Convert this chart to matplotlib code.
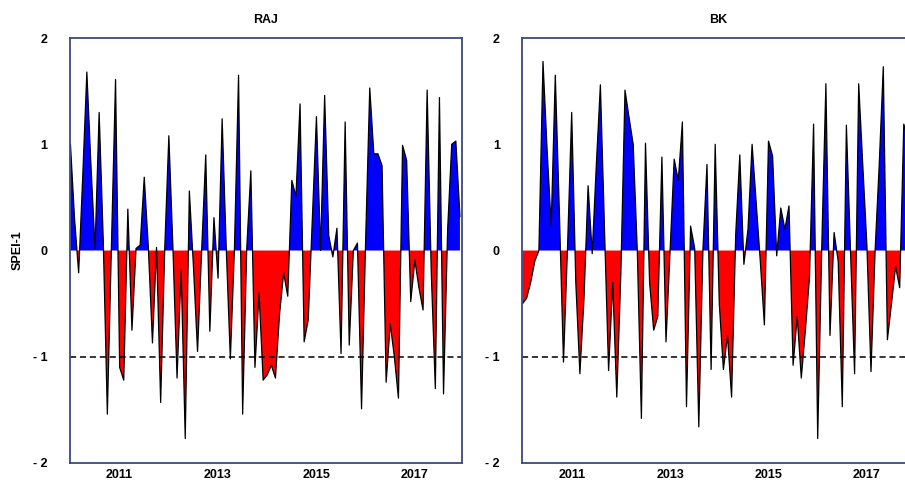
import numpy as np
import matplotlib
matplotlib.use("Agg")
import matplotlib.pyplot as plt

# monthly SPEI-1, Jan 2010 .. Dec 2017
spei_raj = [
    1.00, 0.30, -0.21, 0.70, 1.68, 0.80, 0.02, 1.30, 0.10, -1.54, 0.05, 1.61,
    -1.10, -1.22, 0.39, -0.75, 0.02, 0.05, 0.69, 0.03, -0.87, 0.03, -1.43, 0.02,
    1.08, 0.02, -1.20, -0.18, -1.77, 0.56, -0.15, -0.95, 0.00, 0.90, -0.76, 0.31,
    -0.26, 1.24, 0.02, -1.02, 0.02, 1.65, -1.54, 0.02, 0.75, -1.10, -0.40, -1.22,
    -1.17, -1.08, -1.20, -0.60, -0.21, -0.43, 0.66, 0.51, 1.38, -0.86, -0.65, 0.30,
    1.26, 0.00, 1.46, 0.14, -0.06, 0.21, -0.97, 1.21, -0.89, 0.00, 0.07, -1.49,
    0.10, 1.53, 0.91, 0.91, 0.80, -1.24, -0.69, -1.00, -1.39, 0.99, 0.85, -0.48,
    -0.09, -0.35, -0.56, 1.51, -0.20, -1.30, 1.44, -1.35, 0.20, 1.00, 1.03, 0.32,
]
spei_bk = [
    -0.50, -0.45, -0.30, -0.10, 0.00, 1.78, 0.95, 0.23, 1.65, 0.35, -1.05, 0.05,
    1.30, -0.30, -1.16, -0.45, 0.61, -0.03, 0.80, 1.56, 0.20, -1.13, -0.30, -1.38,
    -0.20, 1.51, 1.25, 1.00, 0.00, -1.58, 1.01, -0.30, -0.75, -0.62, 0.88, -0.86,
    0.00, 0.86, 0.66, 1.21, -1.47, 0.23, 0.02, -1.66, 0.00, 0.81, -1.12, 1.00,
    -0.50, -1.12, -0.80, -1.38, 0.15, 0.90, -0.13, 0.20, 1.00, 0.45, -0.10, -0.70,
    1.03, 0.89, -0.05, 0.40, 0.20, 0.42, -1.08, -0.62, -1.20, -0.75, -0.25, 1.19,
    -1.77, 0.05, 1.57, -0.80, 0.17, -0.10, -1.47, 1.18, 0.00, -1.16, 1.57, 0.80,
    0.05, -1.14, 0.00, 0.80, 1.73, -0.84, -0.50, -0.15, -0.35, 1.19, 1.05, 0.50,
]
stations = ["RAJ", "BK"]
year_ticks = [2011, 2013, 2015, 2017]
y_ticks = [-2, -1, 0, 1, 2]
y_labels = ["- 2", "- 1", "0", "1", "2"]
threshold = -1.0

t = 2010 + np.arange(96) / 12.0

plt.rcParams['font.family'] = ['Liberation Sans', 'DejaVu Sans']
fig = plt.figure(figsize=(9.05, 4.84), dpi=100)
frame_col = "#3b4a7e"

pos = [[0.0773, 0.0434, 0.4331, 0.878],
       [0.5768, 0.0434, 0.4331, 0.878]]

for k, (name, vals) in enumerate(zip(stations, [spei_raj, spei_bk])):
    ax = fig.add_axes(pos[k])
    v = np.array(vals)
    ax.fill_between(t, 0, v, where=v >= 0, interpolate=True, color="#0000ff", lw=0)
    ax.fill_between(t, 0, v, where=v <= 0, interpolate=True, color="#ff0000", lw=0)
    ax.plot(t, v, color="black", lw=0.9)
    ax.axhline(threshold, color="black", ls=(0, (4, 2.5)), lw=1.1)
    ax.set_xlim(t[0] - 0.01, t[-1] + 0.04)
    ax.set_ylim(-2, 2)
    ax.set_xticks(year_ticks)
    ax.set_xticklabels([str(y) for y in year_ticks], fontsize=9, fontweight="bold")
    ax.set_yticks(y_ticks)
    ax.set_yticklabels(y_labels, fontsize=9, fontweight="bold")
    ax.tick_params(axis="x", length=0, pad=4)
    ax.tick_params(axis="y", length=0, pad=16)
    for s in ax.spines.values():
        s.set_color(frame_col)
        s.set_linewidth(1.3)
    ax.set_title(name, fontsize=9, fontweight="bold", pad=11)
    if k == 0:
        ax.set_ylabel("SPEI-1", fontsize=9, fontweight="bold", labelpad=7)

fig.savefig("out.png", dpi=100)
